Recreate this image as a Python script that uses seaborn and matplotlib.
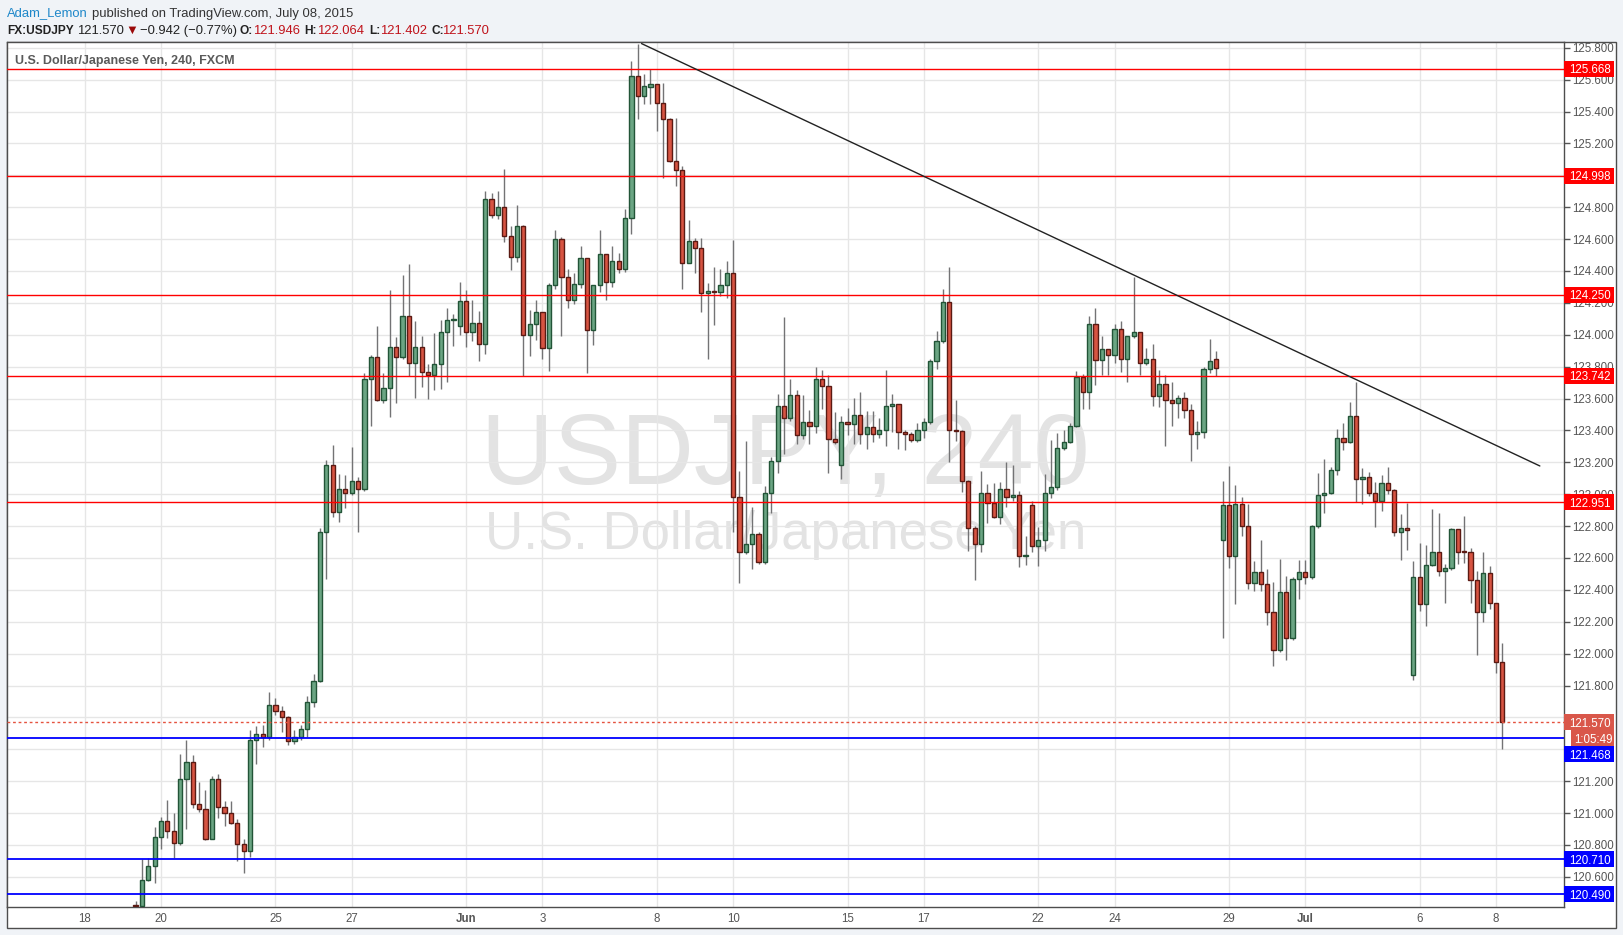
"""
USDJPY 4h candles with drawn support/resistance levels (TradingView style)
"""

import matplotlib
matplotlib.use("Agg")
import matplotlib.pyplot as plt
import matplotlib.transforms as mtransforms
from matplotlib.patches import Rectangle
from matplotlib.ticker import FixedFormatter
import seaborn as sns
import numpy as np
import pandas as pd

# ---- data (4h candles, FXCM) ----
first_candle = "2015-05-19 08:00"

opens = [
    120.425, 120.42, 120.58, 120.67, 120.85, 120.95, 120.885, 120.81, 121.215, 121.32,
    121.055, 121.025, 120.84, 121.215, 121.04, 121.0, 120.94, 120.805, 120.765, 121.46,
    121.495, 121.48, 121.675, 121.64, 121.6, 121.455, 121.475, 121.53, 121.695, 121.83,
    122.76, 123.18, 122.89, 123.03, 123.005, 123.08, 123.035, 123.725, 123.86, 123.59,
    123.665, 123.925, 123.86, 124.12, 123.82, 123.925, 123.765, 123.745, 123.815, 124.015,
    124.09, 124.055, 124.21, 124.02, 124.075, 123.945, 124.85, 124.75, 124.8, 124.62,
    124.49, 124.68, 124.0, 124.065, 124.14, 123.915, 124.31, 124.6, 124.36, 124.215,
    124.32, 124.48, 124.03, 124.31, 124.505, 124.33, 124.46, 124.415, 124.735, 125.62,
    125.5, 125.555, 125.57, 125.455, 125.355, 125.09, 125.035, 124.45, 124.59, 124.545,
    124.26, 124.275, 124.27, 124.315, 124.385, 122.98, 122.635, 122.69, 122.75, 122.575,
    123.005, 123.21, 123.555, 123.48, 123.62, 123.37, 123.455, 123.425, 123.72, 123.68,
    123.345, 123.18, 123.455, 123.44, 123.495, 123.38, 123.42, 123.38, 123.405, 123.555,
    123.565, 123.39, 123.38, 123.34, 123.405, 123.455, 123.835, 123.96, 124.205, 123.405,
    123.395, 123.08, 122.785, 122.685, 123.005, 122.945, 122.86, 123.035, 122.985, 122.995,
    122.61, 122.93, 122.675, 122.715, 123.005, 123.045, 123.29, 123.33, 123.43, 123.735,
    123.64, 124.065, 123.84, 123.91, 123.875, 124.035, 123.85, 123.99, 124.015, 123.82,
    123.85, 123.615, 123.69, 123.59, 123.57, 123.605, 123.525, 123.375, 123.39, 123.785,
    123.845, 122.71, 122.935, 122.615, 122.94, 122.8, 122.44, 122.51, 122.435, 122.26,
    122.02, 122.385, 122.095, 122.47, 122.515, 122.48, 122.8, 122.995, 123.01, 123.15,
    123.35, 123.33, 123.49, 123.095, 123.11, 123.005, 122.955, 123.07, 123.025, 122.765,
    122.79, 121.865, 122.48, 122.31, 122.555, 122.635, 122.52, 122.54, 122.78, 122.64,
    122.635, 122.46, 122.26, 122.505, 122.315, 121.946,
]

highs = [
    120.45, 120.71, 120.72, 120.91, 120.975, 121.08, 121.0, 121.37, 121.46, 121.365,
    121.195, 121.145, 121.23, 121.245, 121.075, 121.075, 120.965, 120.835, 121.52, 121.545,
    121.55, 121.76, 121.72, 121.67, 121.61, 121.52, 121.55, 121.735, 121.87, 122.79,
    123.215, 123.31, 123.125, 123.12, 123.295, 123.105, 123.76, 123.87, 124.055, 123.76,
    124.28, 123.985, 124.375, 124.445, 124.085, 123.99, 123.815, 124.01, 124.09, 124.17,
    124.13, 124.33, 124.28, 124.22, 124.15, 124.9, 124.89, 124.9, 125.04, 124.685,
    124.815, 124.69, 124.155, 124.22, 124.14, 124.325, 124.66, 124.61, 124.41, 124.385,
    124.555, 124.48, 124.31, 124.66, 124.505, 124.555, 124.515, 124.79, 125.715, 125.825,
    125.635, 125.665, 125.57, 125.58, 125.36, 125.36, 125.06, 124.72, 124.605, 124.605,
    124.325, 124.425, 124.41, 124.46, 124.595, 123.145, 123.335, 122.92, 122.76, 123.05,
    123.235, 123.63, 124.11, 123.72, 123.655, 123.62, 123.53, 123.795, 123.78, 123.745,
    123.515, 123.49, 123.54, 123.605, 123.64, 123.52, 123.52, 123.48, 123.78, 123.63,
    123.565, 123.4, 123.39, 123.445, 123.475, 123.85, 124.025, 124.29, 124.425, 123.59,
    123.405, 123.09, 122.8, 123.145, 123.065, 123.07, 123.075, 123.2, 123.185, 123.02,
    122.74, 122.96, 122.795, 123.125, 123.34, 123.385, 123.4, 123.445, 123.77, 123.755,
    124.115, 124.165, 123.99, 123.91, 124.07, 124.085, 123.99, 124.365, 124.015, 123.915,
    123.94, 123.78, 123.745, 123.705, 123.625, 123.64, 123.565, 123.46, 123.8, 123.975,
    123.9, 123.08, 123.175, 123.055, 122.985, 122.94, 122.58, 122.715, 122.53, 122.45,
    122.595, 122.49, 122.48, 122.585, 122.585, 122.805, 123.135, 123.22, 123.17, 123.41,
    123.445, 123.58, 123.705, 123.165, 123.14, 123.075, 123.12, 123.17, 123.035, 122.875,
    122.945, 122.58, 122.695, 122.68, 122.91, 122.88, 122.56, 122.79, 122.78, 122.865,
    122.66, 122.52, 122.635, 122.55, 122.315, 122.064,
]

lows = [
    120.41, 120.415, 120.575, 120.56, 120.775, 120.845, 120.72, 120.8, 120.9, 121.035,
    121.005, 120.83, 120.835, 120.97, 120.92, 120.93, 120.7, 120.625, 120.725, 121.31,
    121.415, 121.46, 121.615, 121.51, 121.43, 121.435, 121.46, 121.475, 121.665, 121.825,
    122.47, 122.855, 122.825, 122.915, 122.995, 122.765, 123.02, 123.425, 123.585, 123.575,
    123.485, 123.575, 123.85, 123.74, 123.605, 123.67, 123.595, 123.655, 123.66, 123.705,
    123.93, 124.0, 123.925, 123.96, 123.835, 123.88, 124.735, 124.725, 124.58, 124.405,
    124.455, 123.74, 123.865, 123.965, 123.845, 123.775, 124.29, 123.99, 124.165, 124.195,
    124.295, 123.76, 123.935, 124.265, 124.215, 124.3, 124.39, 124.395, 124.63, 125.355,
    125.45, 125.445, 125.28, 124.98, 125.085, 124.935, 124.285, 124.45, 124.385, 124.145,
    123.845, 124.06, 124.24, 124.23, 122.76, 122.44, 122.625, 122.53, 122.565, 122.565,
    122.88, 123.13, 123.25, 123.46, 123.315, 123.345, 123.315, 123.385, 123.535, 123.13,
    123.315, 123.095, 123.37, 123.315, 123.315, 123.285, 123.33, 123.355, 123.3, 123.39,
    123.285, 123.28, 123.325, 123.325, 123.35, 123.44, 123.785, 123.95, 123.2, 123.335,
    123.015, 122.645, 122.46, 122.64, 122.82, 122.85, 122.81, 122.92, 122.96, 122.545,
    122.555, 122.64, 122.55, 122.645, 122.975, 123.025, 123.28, 123.32, 123.42, 123.535,
    123.535, 123.685, 123.75, 123.745, 123.82, 123.765, 123.705, 123.98, 123.75, 123.81,
    123.55, 123.545, 123.305, 123.43, 123.48, 123.48, 123.21, 123.285, 123.35, 123.76,
    123.74, 122.095, 122.54, 122.31, 122.735, 122.405, 122.39, 122.395, 122.18, 121.925,
    122.01, 121.96, 122.085, 122.345, 122.435, 122.47, 122.79, 122.88, 123.0, 123.12,
    123.275, 123.32, 122.95, 122.94, 122.99, 122.795, 122.895, 123.0, 122.74, 122.59,
    122.65, 121.835, 122.265, 122.175, 122.55, 122.485, 122.315, 122.525, 122.56, 122.57,
    122.32, 121.99, 122.2, 122.28, 121.88, 121.402,
]

closes = [
    120.42, 120.58, 120.67, 120.85, 120.95, 120.885, 120.81, 121.215, 121.32, 121.055,
    121.025, 120.84, 121.215, 121.04, 121.0, 120.94, 120.805, 120.765, 121.46, 121.495,
    121.48, 121.675, 121.64, 121.6, 121.455, 121.475, 121.53, 121.695, 121.83, 122.76,
    123.18, 122.89, 123.03, 123.005, 123.08, 123.035, 123.725, 123.86, 123.59, 123.665,
    123.925, 123.86, 124.12, 123.82, 123.925, 123.765, 123.745, 123.815, 124.015, 124.09,
    124.1, 124.21, 124.02, 124.075, 123.945, 124.85, 124.75, 124.8, 124.62, 124.49,
    124.68, 124.0, 124.065, 124.14, 123.915, 124.31, 124.6, 124.36, 124.215, 124.32,
    124.48, 124.03, 124.31, 124.505, 124.33, 124.46, 124.415, 124.735, 125.62, 125.5,
    125.56, 125.57, 125.455, 125.355, 125.09, 125.035, 124.45, 124.59, 124.545, 124.26,
    124.275, 124.27, 124.315, 124.385, 122.98, 122.635, 122.69, 122.75, 122.575, 123.005,
    123.21, 123.555, 123.48, 123.62, 123.37, 123.455, 123.425, 123.72, 123.68, 123.345,
    123.33, 123.455, 123.44, 123.495, 123.38, 123.42, 123.38, 123.405, 123.555, 123.565,
    123.39, 123.38, 123.34, 123.405, 123.455, 123.835, 123.96, 124.205, 123.405, 123.395,
    123.08, 122.785, 122.685, 123.005, 122.945, 122.86, 123.035, 122.985, 122.995, 122.61,
    122.62, 122.675, 122.715, 123.005, 123.045, 123.29, 123.33, 123.43, 123.735, 123.64,
    124.065, 123.84, 123.91, 123.875, 124.035, 123.85, 123.99, 124.015, 123.82, 123.85,
    123.615, 123.69, 123.59, 123.57, 123.605, 123.525, 123.375, 123.39, 123.785, 123.835,
    123.79, 122.935, 122.615, 122.94, 122.8, 122.44, 122.51, 122.435, 122.26, 122.02,
    122.385, 122.095, 122.47, 122.515, 122.48, 122.8, 122.995, 123.01, 123.15, 123.35,
    123.33, 123.49, 123.095, 123.11, 123.005, 122.955, 123.07, 123.025, 122.765, 122.79,
    122.775, 122.48, 122.31, 122.555, 122.635, 122.52, 122.54, 122.78, 122.64, 122.635,
    122.46, 122.26, 122.505, 122.315, 121.946, 121.57,
]

tick_dates = ["2015-05-18", "2015-05-20", "2015-05-25", "2015-05-27", "2015-06-01",
              "2015-06-03", "2015-06-08", "2015-06-10", "2015-06-15", "2015-06-17",
              "2015-06-22", "2015-06-24", "2015-06-29", "2015-07-01", "2015-07-06",
              "2015-07-08"]

red_levels = [125.668, 124.998, 124.250, 123.742, 122.951]
blue_levels = [121.468, 120.710, 120.490]
last_price = 121.570
countdown = "1:05:49"

# drawn trend line: (candle slot, price)
trend_start = (87.6, 125.826)
trend_end = (228.9, 123.177)

# ---- style ----
sns.set_style("white")
plt.rcParams["font.family"] = ["Liberation Sans", "DejaVu Sans"]

UP, UP_EDGE = "#6ba583", "#225437"
DOWN, DOWN_EDGE = "#d75442", "#5b1a13"
WICK = "#737375"
TXT = "#555555"

W, H = 1623, 935
fig = plt.figure(figsize=(W / 100, H / 100), dpi=100, facecolor="#f0f3f7")

# white frame holding chart, time scale and price scale
fig.add_artist(Rectangle((6.5 / W, 1 - 928 / H), (1616 - 6.5) / W, (928 - 42) / H,
                         transform=fig.transFigure, facecolor="white",
                         edgecolor="#4d4d4d", lw=1, zorder=-1))

ax = fig.add_axes([6.5 / W, 1 - 907 / H, (1564 - 6.5) / W, (907 - 42) / H])
ax.set_facecolor("white")

# ---- candle positions on a 6-candles-per-weekday calendar ----
days = pd.bdate_range("2015-05-18", "2015-07-10")
slots = pd.DatetimeIndex([d + pd.Timedelta(hours=4 * i) for d in days for i in range(6)])
start = slots.get_loc(pd.Timestamp(first_candle))
x = np.arange(start, start + len(opens))

o = np.array(opens)
c = np.array(closes)
h = np.maximum(np.array(highs), np.maximum(o, c))
l = np.minimum(np.array(lows), np.minimum(o, c))
up = c >= o

ax.vlines(x, l, h, color=WICK, lw=1, zorder=3)
body_low = np.minimum(o, c)
body_h = np.maximum(np.abs(c - o), 0.006)
ax.bar(x[up], body_h[up], bottom=body_low[up], width=0.66,
       color=UP, edgecolor=UP_EDGE, lw=1, zorder=4)
ax.bar(x[~up], body_h[~up], bottom=body_low[~up], width=0.66,
       color=DOWN, edgecolor=DOWN_EDGE, lw=1, zorder=4)

ax.set_xlim(-12.3, 232.7)
ax.set_ylim(120.411, 125.836)
y0, y1 = ax.get_ylim()
box_h = 16 * (y1 - y0) / (907 - 42)

# price-scale tag positions: current price, countdown under it, then the levels
timer_y = last_price - box_h
tag_pos = []
for lv in blue_levels:
    ty = lv
    if abs(ty - timer_y) < box_h:
        ty = timer_y - box_h
    tag_pos.append(ty)
tag_levels = red_levels + tag_pos + [last_price, timer_y]

# ---- axes ----
ax.yaxis.tick_right()
yticks = np.round(np.arange(120.6, 125.81, 0.2), 1)
# labels sitting fully under a price tag are not drawn
ylabels = ["" if min(abs(t - lv) for lv in tag_levels) < 0.04 else f"{t:.3f}"
           for t in yticks]
ax.set_yticks(yticks)
ax.yaxis.set_major_formatter(FixedFormatter(ylabels))
ax.tick_params(axis="y", length=4, width=1, colors=TXT, labelsize=8.3, pad=2)

tick_ts = [pd.Timestamp(d) for d in tick_dates]
ax.set_xticks([slots.get_loc(t) for t in tick_ts])
ax.set_xticklabels([t.strftime("%b") if t.day == 1 else str(t.day) for t in tick_ts])
for lab, t in zip(ax.get_xticklabels(), tick_ts):
    if t.day == 1:
        lab.set_fontweight("bold")
ax.tick_params(axis="x", length=0, pad=4, labelsize=8.3, colors=TXT)

ax.grid(True, color="#e6e6e6", lw=1)
for sp in ax.spines.values():
    sp.set_color("#4d4d4d")
    sp.set_linewidth(1)

# ---- watermark ----
ax.text(0.5, 0.489, "USDJPY, 240", transform=ax.transAxes, ha="center",
        va="baseline", fontsize=72.5, color="#e3e3e3", zorder=0.4)
ax.text(0.5, 0.414, "U.S. Dollar/Japanese Yen", transform=ax.transAxes, ha="center",
        va="baseline", fontsize=38, color="#e3e3e3", zorder=0.4)

# ---- drawn levels ----
for lv in red_levels:
    ax.axhline(lv, color="#ff0000", lw=1, zorder=5)
for lv in blue_levels:
    ax.axhline(lv, color="#0000ff", lw=1.3, zorder=5)
ax.axhline(last_price, color="#e5533f", lw=1, ls=(0, (2, 2)), zorder=5)

sns.lineplot(x=[trend_start[0], trend_end[0]], y=[trend_start[1], trend_end[1]],
             color="#222222", lw=1, ax=ax, zorder=6)

# ---- price-scale tags ----
tag_tr = mtransforms.blended_transform_factory(ax.transAxes, ax.transData)
px = 1 / (1564 - 6.5)


def price_tag(y, text, face, x0=0, width=50):
    ax.add_patch(Rectangle((1 + x0 * px, y - box_h / 2), width * px, box_h,
                           transform=tag_tr, facecolor=face, edgecolor="none",
                           clip_on=False, zorder=7))
    ax.text(1 + (x0 + width / 2 + 1) * px, y, text, transform=tag_tr, ha="center",
            va="center_baseline", color="white", fontsize=8.3, clip_on=False, zorder=8)


for lv in red_levels:
    price_tag(lv, f"{lv:.3f}", "#ff0000")
price_tag(last_price, f"{last_price:.3f}", "#d9574a")
price_tag(timer_y, countdown, "#d9574a", x0=7, width=43)
for lv, ty in zip(blue_levels, tag_pos):
    price_tag(ty, f"{lv:.3f}", "#0000ff")

# ---- header ----
DARK = "#222222"
VAL = "#c0131b"
FS = 9.4


def head(x_px, y_px, s, color=DARK, weight="normal", size=FS):
    fig.text(x_px / W, 1 - y_px / H, s, va="baseline", ha="left",
             color=color, fontsize=size, fontweight=weight)


head(7, 16.5, "Adam_Lemon", color="#1e87c9")
head(92, 16.5, "published on TradingView.com, July 08, 2015", color="#333333")

head(7, 34, "FX:USDJPY", weight="bold", size=8.6)
head(77, 34, "121.570")
head(125, 34, "\u25bc", color="#9b0a0a")
head(140, 34, "\u22120.942 (\u22120.77%)")
head(239, 34, "O:", weight="bold", size=8.6)
head(253, 34, "121.946", color=VAL)
head(304, 34, "H:", weight="bold", size=8.6)
head(317, 34, "122.064", color=VAL)
head(369, 34, "L:", weight="bold", size=8.6)
head(380, 34, "121.402", color=VAL)
head(431, 34, "C:", weight="bold", size=8.6)
head(442, 34, "121.570", color=VAL)

fig.text(15 / W, 1 - 64 / H, "U.S. Dollar/Japanese Yen, 240, FXCM", va="baseline",
         ha="left", color="#5a5a5a", fontsize=9, fontweight="bold")

fig.savefig("out.png", dpi=100, facecolor=fig.get_facecolor())
